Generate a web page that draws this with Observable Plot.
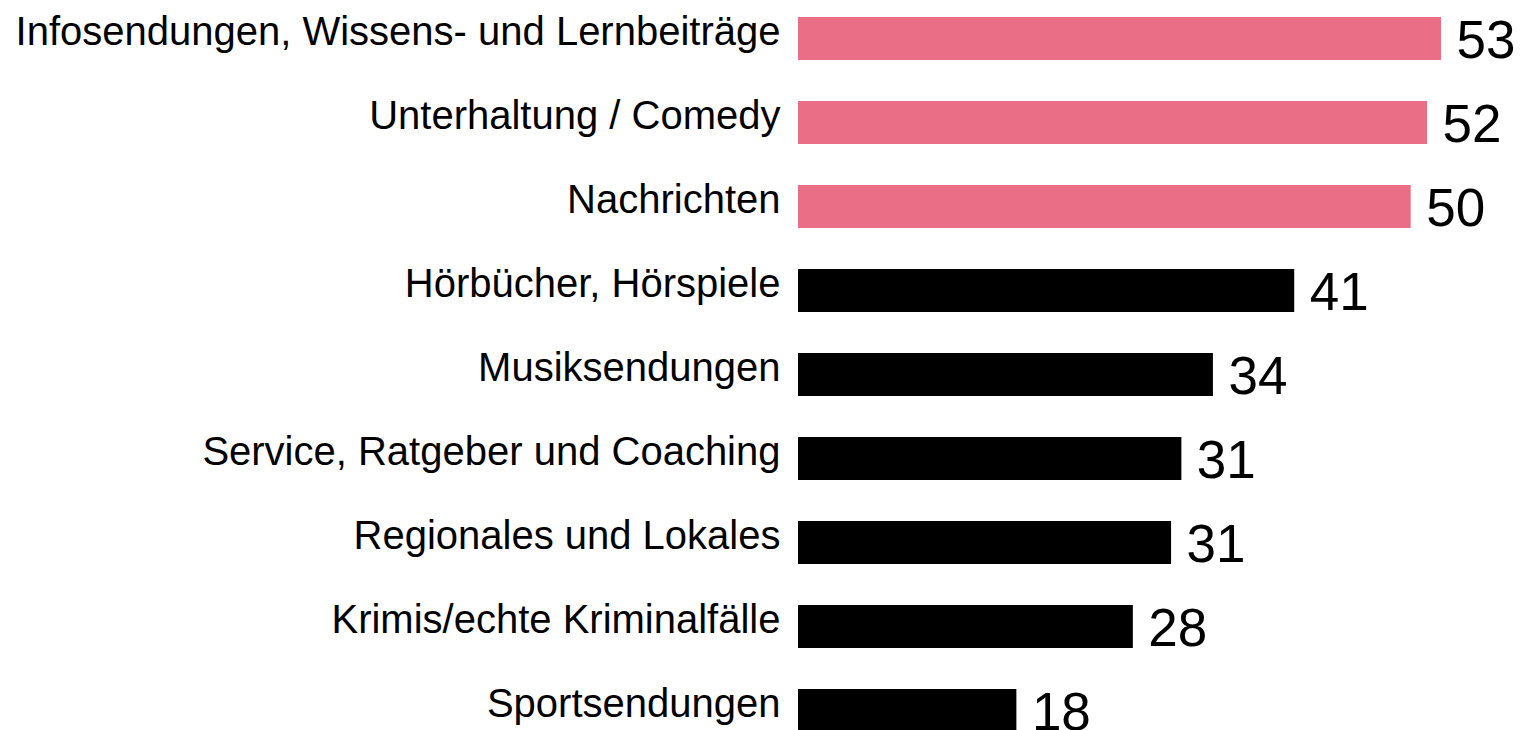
<!DOCTYPE html>
<html>
<head>
<meta charset="utf-8">
<script src="https://cdn.jsdelivr.net/npm/d3@7"></script>
<script src="https://cdn.jsdelivr.net/npm/@observablehq/plot@0.6"></script>
<style>
  html, body { margin: 0; padding: 0; background: #fff; overflow: hidden; }
  #chart svg { display: block; overflow: hidden; }
</style>
</head>
<body>
<div id="chart"></div>
<script>
const categories = [
  "Infosendungen, Wissens- und Lernbeiträge",
  "Unterhaltung / Comedy",
  "Nachrichten",
  "Hörbücher, Hörspiele",
  "Musiksendungen",
  "Service, Ratgeber und Coaching",
  "Regionales und Lokales",
  "Krimis/echte Kriminalfälle",
  "Sportsendungen"
];
const values = [53, 51.85, 50.5, 40.9, 34.2, 31.6, 30.75, 27.6, 18.0];
const valueLabels = ["53", "52", "50", "41", "34", "31", "31", "28", "18"];
const groups = ["top", "top", "top", "other", "other", "other", "other", "other", "other"];

const data = categories.map((c, i) => ({
  category: c, value: values[i], label: valueLabels[i], group: groups[i]
}));

const font = "'Liberation Sans', Arial, sans-serif";

const chart = Plot.plot({
  width: 1521,
  height: 730,
  marginLeft: 798,
  marginRight: 0,
  marginTop: 0,
  marginBottom: 0,
  style: { fontFamily: font, background: "#fff", color: "#000" },
  x: { domain: [0, 53], range: [798, 1441], axis: null },
  y: { domain: categories, range: [14, 735], paddingInner: 0.4926, paddingOuter: 0, axis: null },
  color: { domain: ["top", "other"], range: ["#e96e86", "#000000"] },
  marks: [
    Plot.barX(data, { x: "value", y: "category", fill: "group" }),
    Plot.text(data, {
      x: 0, y: "category", text: "category",
      textAnchor: "end", dx: -18, dy: -6.6,
      fontSize: 40, fill: "#000"
    }),
    Plot.text(data, {
      x: "value", y: "category", text: "label",
      textAnchor: "start", dx: 15, dy: 2.5,
      fontSize: 53, fill: "#000"
    })
  ]
});

document.getElementById("chart").appendChild(chart);
</script>
</body>
</html>
